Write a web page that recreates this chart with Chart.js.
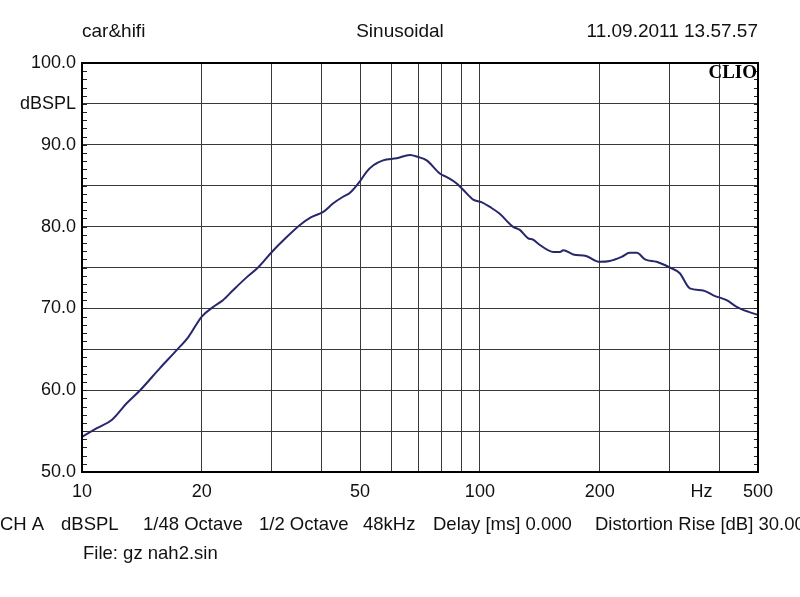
<!DOCTYPE html>
<html>
<head>
<meta charset="utf-8">
<script src="https://cdn.jsdelivr.net/npm/chart.js@4.4.1/dist/chart.umd.min.js"></script>
<style>
html,body{margin:0;padding:0;background:#fff;}
#wrap{position:relative;width:800px;height:597px;}
canvas{display:block;}
</style>
</head>
<body>
<div id="wrap"><canvas id="c" width="800" height="597"></canvas></div>
<script>
// ---- data ----
const freqs = [10,10.9,11.9,12.95,14,15.7,17.3,18.5,20,21.4,22.6,24,25.8,27.7,30,32.5,35.3,37.5,40.4,42.8,45.3,47.1,49.9,51.9,54,57.1,61.8,66.7,70,73.5,79.3,83,87.3,90.8,96.2,100.9,106,112,121,126,132,136,141.5,153,159,162,171.6,185,200,212,227,238,248,260,278,300,318,337,364,386,417,442,472,500];
const spl = [54.3,55.35,56.4,58.4,60.0,62.7,64.9,66.5,69.0,70.2,71.0,72.25,73.7,75.0,76.9,78.6,80.2,81.1,81.8,82.85,83.65,84.1,85.5,86.7,87.5,88.1,88.35,88.75,88.5,88.1,86.5,86.0,85.3,84.5,83.3,83.0,82.4,81.6,80.0,79.6,78.6,78.4,77.75,76.9,76.9,77.1,76.6,76.4,75.7,75.8,76.3,76.8,76.8,76.0,75.7,75.0,74.3,72.45,72.2,71.6,71.0,70.2,69.6,69.2];

const xTickValues = [10,20,30,40,50,60,70,80,90,100,200,300,400,500];
const xTickLabels = ['10','20','','','50','','','','','100','200','','','500'];
const yTickValues = [50,55,60,65,70,75,80,85,90,95,100];
const yTickLabels = ['50.0','','60.0','','70.0','','80.0','','90.0','dBSPL','100.0'];
const unitLabel = 'Hz';
const headerLeft = 'car&hifi', headerMid = 'Sinusoidal', headerRight = '11.09.2011 13.57.57';
const footerItems = ['CH A','dBSPL','1/48 Octave','1/2 Octave','48kHz','Delay [ms] 0.000','Distortion Rise [dB] 30.00'];
const footerX = [0,61,143,259,363,433,595];
const fileLine = 'File: gz nah2.sin';
const brand = 'CLIO';

const FONT = '"Liberation Sans", Arial, sans-serif';
const TXT = '#111';

const decor = {
  id: 'decor',
  afterDraw(chart) {
    const ctx = chart.ctx, a = chart.chartArea;
    const ys = chart.scales.y, xs = chart.scales.x;
    ctx.save();
    // minor ticks every 1 dB on left and right, inside
    ctx.strokeStyle = '#222'; ctx.lineWidth = 1;
    for (let v = 50; v <= 100; v++) {
      const y = Math.round(ys.getPixelForValue(v)) + 0.5;
      ctx.beginPath();
      ctx.moveTo(a.left, y); ctx.lineTo(a.left + 5, y);
      ctx.moveTo(a.right - 4, y); ctx.lineTo(a.right, y);
      ctx.stroke();
    }
    // frame
    ctx.strokeStyle = '#000'; ctx.lineWidth = 2;
    ctx.strokeRect(a.left, a.top, a.right - a.left, a.bottom - a.top);
    // brand
    ctx.fillStyle = '#000';
    ctx.font = 'bold 19px "Liberation Serif", "Times New Roman", serif';
    ctx.textAlign = 'right'; ctx.textBaseline = 'middle';
    ctx.fillText(brand, a.right - 1, a.top + 10);
    // texts
    ctx.fillStyle = TXT;
    ctx.font = '19px ' + FONT;
    ctx.textBaseline = 'middle';
    ctx.textAlign = 'left'; ctx.fillText(headerLeft, a.left, 32);
    ctx.textAlign = 'center'; ctx.fillText(headerMid, 400, 32);
    ctx.textAlign = 'right'; ctx.fillText(headerRight, a.right, 32);
    ctx.font = '18px ' + FONT;
    ctx.textAlign = 'center';
    ctx.fillText(unitLabel, xs.getPixelForValue(400) - 18, 492);
    ctx.font = '18.5px ' + FONT;
    ctx.textAlign = 'left';
    footerItems.forEach((t, i) => ctx.fillText(t, footerX[i], 525));
    ctx.fillText(fileLine, a.left + 1, 554);
    ctx.restore();
  }
};

new Chart(document.getElementById('c'), {
  type: 'line',
  data: {
    datasets: [{
      data: freqs.map((f, i) => ({x: f, y: spl[i]})),
      borderColor: '#27276b',
      borderWidth: 2,
      pointRadius: 0,
      tension: 0.3,
      cubicInterpolationMode: 'monotone',
      fill: false
    }]
  },
  options: {
    responsive: false,
    animation: false,
    devicePixelRatio: 1,
    layout: {padding: {top: 63, right: 42, left: 0, bottom: 0}},
    plugins: {legend: {display: false}, tooltip: {enabled: false}, title: {display: false}},
    scales: {
      x: {
        type: 'logarithmic', min: 10, max: 500,
        afterBuildTicks(s) { s.ticks = xTickValues.map(v => ({value: v})); },
        afterFit(s) { s.height = 125; },
        ticks: {
          autoSkip: false, maxRotation: 0, minRotation: 0, padding: 9,
          color: TXT, font: {family: FONT, size: 18},
          callback(v, i) { return xTickLabels[i]; }
        },
        grid: {color: '#3a3a3a', lineWidth: 1, drawTicks: false},
        border: {display: false}
      },
      y: {
        min: 50, max: 100,
        afterBuildTicks(s) { s.ticks = yTickValues.map(v => ({value: v})); },
        afterFit(s) { s.width = 82; },
        ticks: {
          padding: 6, color: TXT, font: {family: FONT, size: 18},
          callback(v, i) { return yTickLabels[i]; }
        },
        grid: {color: '#3a3a3a', lineWidth: 1, drawTicks: false},
        border: {display: false}
      }
    }
  },
  plugins: [decor]
});
</script>
</body>
</html>
